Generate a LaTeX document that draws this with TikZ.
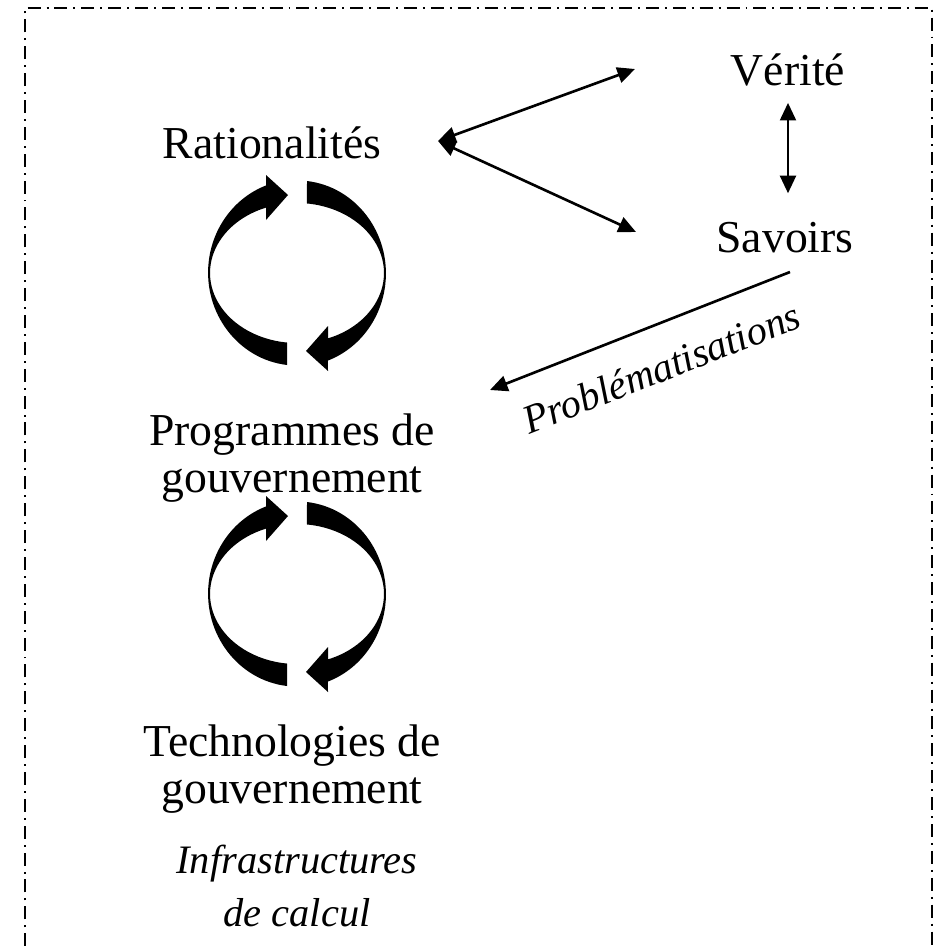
\documentclass[tikz,border=0pt]{standalone}
\usepackage{fontspec}
\setmainfont{Liberation Serif}
\usepackage{tikz}
\usetikzlibrary{arrows.meta}

\tikzset{
  mot/.style={font=\fontsize{26}{26.5}\selectfont, align=center, inner sep=0pt},
  motit/.style={font=\fontsize{23}{30}\selectfont\itshape, align=center, inner sep=0pt},
  fleche/.style={line width=1.5pt, >={Triangle[length=10pt,width=9pt]}},
  cadre/.style={line width=1.2pt, dash pattern=on 7.4pt off 3.4pt on 1.1pt off 3.4pt},
}

\begin{document}
\begin{tikzpicture}[x=0.02cm, y=0.02cm]

\useasboundingbox (0,0) rectangle (944,-946);
\clip (0,0) rectangle (944,-946);

% cadre ouvert en bas
\draw[cadre] (25,-1000) -- (25,-8) -- (932,-8) -- (932,-1000);

\draw
    node at(272,-158)[mot,anchor=base,name=rat]{Rationalités}
    node at(788,-86)[mot,anchor=base,name=ver]{Vérité}
    node at(785,-252)[mot,anchor=base,name=sav]{Savoirs}

    node at(292,-458)[mot,name=prog]{Programmes de\\gouvernement}
    node at(292,-769)[mot,name=tech]{Technologies de\\gouvernement}
    node at(297,-886)[motit,name=infra]{Infrastructures\\de calcul}
;

\coordinate (ratR) at (438,-141);
\coordinate (verL) at (635,-69);
\coordinate (savL) at (636,-232);
\coordinate (savB) at (790,-272);
\coordinate (progR) at (490,-390);

    \draw[fleche,<->](ratR) -- (verL);
    \draw[fleche,<->](ratR) -- (savL);
    \draw[fleche,<->,shorten <=9pt,shorten >=16pt](ver.south) -- (ver.south |- sav.north);

    \draw[fleche,->](savB) -- node[motit,sloped,below=15pt,pos=0.48]{Problématisations}(progR);

% les deux cycles
\foreach \cy in {-273,-594}{
  \foreach \rot in {0,180}{
    \begin{scope}[shift={(297,\cy)}, rotate=\rot]
      \fill (-10,-92) arc[start angle=263.5, end angle=110.4, x radius=89, y radius=93]
        -- (-31,98) -- (-9,78) -- (-31,53) -- (-31,65.4)
        arc[start angle=110.9, end angle=263.4, x radius=87, y radius=70] -- cycle;
    \end{scope}
  }
}

\end{tikzpicture}
\end{document}
